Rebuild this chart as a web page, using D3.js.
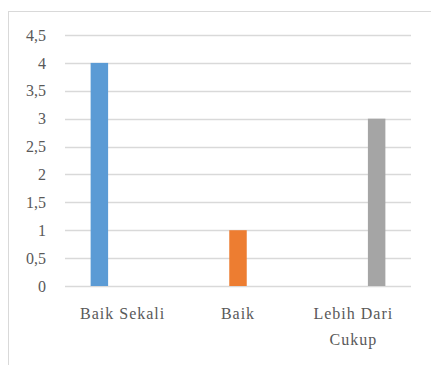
<!DOCTYPE html>
<html>
<head>
<meta charset="utf-8">
<script src="https://cdn.jsdelivr.net/npm/d3@7"></script>
<style>
  html, body { margin: 0; padding: 0; background: #fff; }
</style>
</head>
<body>
<svg id="chart" width="431" height="365"></svg>
<script>
// Category labels (multi-line where wrapped)
const categories = ["Baik Sekali", "Baik", "Lebih Dari Cukup"];
const categoryLines = [["Baik Sekali"], ["Baik"], ["Lebih Dari", "Cukup"]];
// One series per category, each valued only at its own category
const seriesNames = ["Baik Sekali", "Baik", "Lebih Dari Cukup"];
const seriesValues = [
  [4, null, null],
  [null, 1, null],
  [null, null, 3]
];
const seriesColors = ["#5b9bd5", "#ed7d31", "#a5a5a5"];
const yTicks = [0, 0.5, 1, 1.5, 2, 2.5, 3, 3.5, 4, 4.5];
const yTickLabels = ["0", "0,5", "1", "1,5", "2", "2,5", "3", "3,5", "4", "4,5"];

const FONT = "'Liberation Serif', 'DejaVu Serif', serif";
const TEXT_COLOR = "#595959";

const svg = d3.select("#chart");

// Chart frame
svg.append("rect")
  .attr("x", 8.5).attr("y", 11.5)
  .attr("width", 440).attr("height", 400)
  .attr("fill", "none").attr("stroke", "#d9d9d9");

const plot = { left: 65, right: 411, top: 35, bottom: 286 };

const y = d3.scaleLinear().domain([0, 4.5]).range([plot.bottom, plot.top]);
const x = d3.scaleBand().domain(categories).range([plot.left, plot.right]).paddingInner(0).paddingOuter(0);
const xs = d3.scaleBand().domain(seriesNames).range([0, x.bandwidth()]).paddingInner(0.25).paddingOuter(1.1);

// Gridlines
svg.append("g").selectAll("line").data(yTicks).join("line")
  .attr("x1", plot.left).attr("x2", plot.right)
  .attr("y1", d => Math.round(y(d)) + 0.5).attr("y2", d => Math.round(y(d)) + 0.5)
  .attr("stroke", "#d9d9d9").attr("stroke-width", 1.3);

// Y axis labels
const yAxis = d3.axisLeft(y).tickValues(yTicks)
  .tickFormat((d, i) => yTickLabels[i]).tickSize(0).tickPadding(0);
const yg = svg.append("g").attr("transform", `translate(${plot.left - 19},0)`).call(yAxis)
  .attr("font-family", FONT).attr("font-size", 16);
yg.select(".domain").remove();
yg.selectAll("text").attr("fill", TEXT_COLOR).attr("dy", "0.32em");

// Bars
const bars = [];
seriesValues.forEach((vals, si) => {
  vals.forEach((v, ci) => {
    if (v !== null) bars.push({ s: seriesNames[si], c: categories[ci], v, color: seriesColors[si] });
  });
});
svg.append("g").selectAll("rect").data(bars).join("rect")
  .attr("x", d => x(d.c) + xs(d.s))
  .attr("width", xs.bandwidth())
  .attr("y", d => y(d.v))
  .attr("height", d => y(0) - y(d.v))
  .attr("fill", d => d.color);

// X axis category labels
const xl = svg.append("g").attr("font-family", FONT).attr("fill", TEXT_COLOR);
categories.forEach((c, i) => {
  const cx = x(c) + x.bandwidth() / 2;
  const t = xl.append("text")
    .attr("text-anchor", "middle")
    .attr("font-size", 16)
    .attr("letter-spacing", 1);
  categoryLines[i].forEach((line, li) => {
    t.append("tspan").attr("x", cx).attr("y", 319 + li * 26).text(line);
  });
});
</script>
</body>
</html>
